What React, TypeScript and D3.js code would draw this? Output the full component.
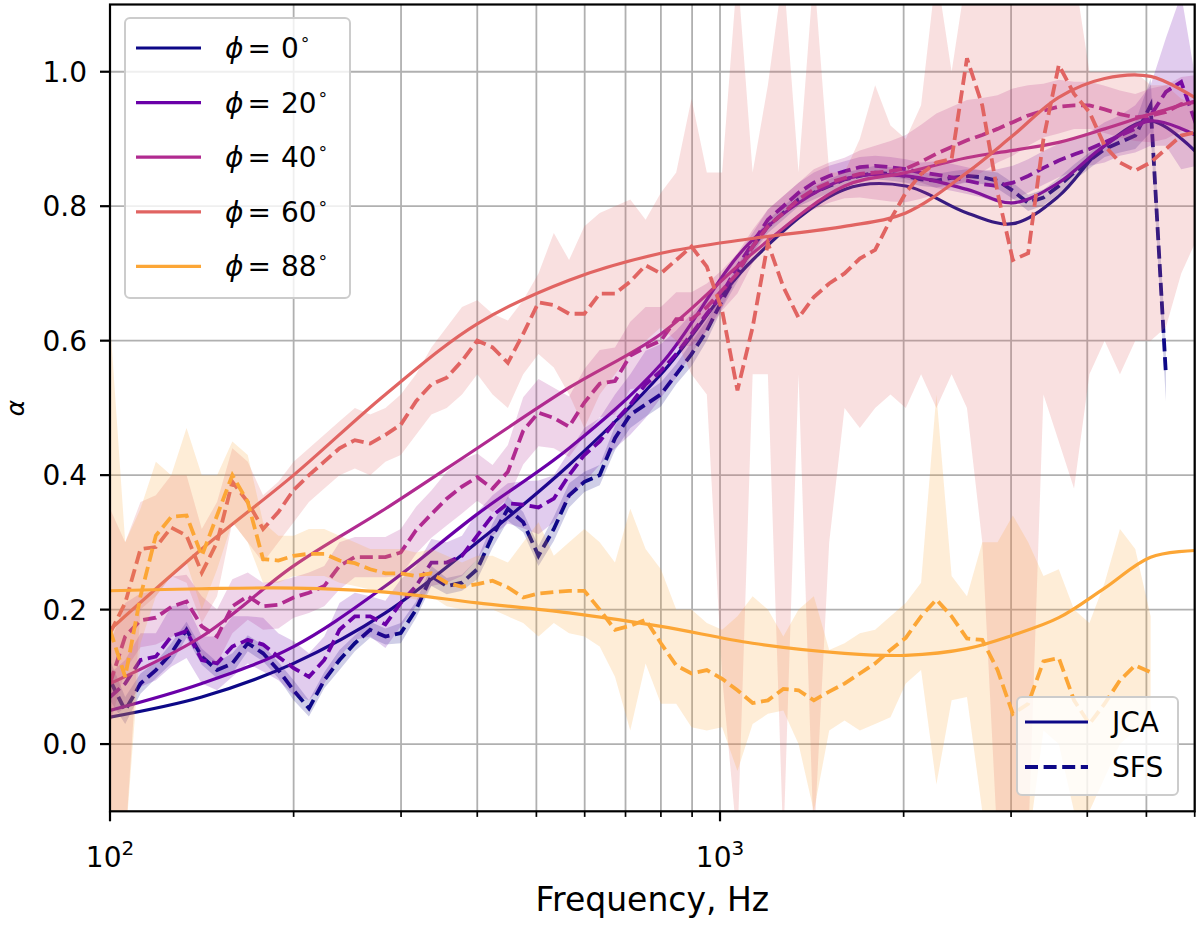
import React, { useEffect, useRef } from 'react'
import * as d3 from 'd3'

// 1/12-octave analysis frequencies (Hz) for the SFS measurements
const FREQS = [
  100, 105.9, 112.2, 118.9, 126, 133.5, 141.4, 149.8, 158.7, 168.2,
  178.2, 188.8, 200, 211.9, 224.5, 237.8, 252, 267, 282.8, 299.7,
  317.5, 336.4, 356.4, 377.6, 400, 423.8, 449, 475.7, 504, 534,
  565.7, 599.3, 635, 672.7, 712.7, 755.1, 800, 847.6, 898, 951.4,
  1008, 1068, 1131, 1198, 1270, 1345, 1425, 1510, 1600, 1695,
  1796, 1903, 2016, 2136, 2263, 2397, 2540, 2691, 2851, 3020,
  3200, 3390, 3592, 3805, 4032, 4271, 4525, 4794, 5080, 5382,
  5702, 6041,
]

// coarser grid for the smooth JCA model curves
const JCA_FREQS = [100, 141.4, 200, 282.8, 400, 565.7, 800, 1131, 1600, 2016, 2540, 3020, 3592, 4271, 5080, 6041]

const ANGLES = [0, 20, 40, 60, 88]
const Y_TICKS = [0, 0.2, 0.4, 0.6, 0.8, 1.0]

const JCA_0 = [0.04, 0.07, 0.12, 0.195, 0.3, 0.415, 0.55, 0.72, 0.825, 0.83, 0.79, 0.774, 0.815, 0.89, 0.927, 0.88]
const JCA_20 = [0.05, 0.09, 0.145, 0.235, 0.342, 0.44, 0.565, 0.75, 0.84, 0.845, 0.825, 0.805, 0.835, 0.89, 0.927, 0.905]
const JCA_40 = [0.09, 0.16, 0.265, 0.35, 0.44, 0.53, 0.61, 0.73, 0.83, 0.85, 0.872, 0.883, 0.895, 0.915, 0.937, 0.957]
const JCA_60 = [0.17, 0.29, 0.4, 0.52, 0.625, 0.69, 0.73, 0.752, 0.77, 0.79, 0.85, 0.905, 0.962, 0.99, 0.993, 0.96]
const JCA_88 = [0.228, 0.231, 0.232, 0.226, 0.21, 0.195, 0.175, 0.15, 0.135, 0.132, 0.142, 0.162, 0.188, 0.232, 0.278, 0.288]

const SFS_0 = [
  0.095, 0.05, 0.09, 0.11, 0.135, 0.17, 0.13, 0.11, 0.12, 0.15,
  0.135, 0.11, 0.08, 0.053, 0.095, 0.125, 0.15, 0.17, 0.16, 0.165,
  0.2, 0.25, 0.235, 0.24, 0.26, 0.31, 0.35, 0.33, 0.28, 0.32,
  0.37, 0.39, 0.4, 0.455, 0.49, 0.505, 0.52, 0.55, 0.58, 0.615,
  0.66, 0.7, 0.74, 0.77, 0.79, 0.81, 0.82, 0.83, 0.84, 0.845,
  0.85, 0.848, 0.845, 0.84, 0.838, 0.842, 0.845, 0.843, 0.838, 0.823,
  0.805, 0.813, 0.83, 0.85, 0.868, 0.885, 0.895, 0.905, 0.95, 0.55,
  null, null,
]
const SFS_20 = [
  0.07, 0.09, 0.125, 0.13, 0.16, 0.168, 0.125, 0.12, 0.145, 0.155,
  0.148, 0.13, 0.113, 0.1, 0.125, 0.17, 0.19, 0.19, 0.178, 0.21,
  0.235, 0.27, 0.27, 0.28, 0.31, 0.34, 0.358, 0.356, 0.352, 0.365,
  0.4, 0.43, 0.45, 0.48, 0.505, 0.535, 0.555, 0.58, 0.61, 0.64,
  0.67, 0.71, 0.745, 0.78, 0.8, 0.82, 0.835, 0.845, 0.852, 0.858,
  0.86, 0.858, 0.855, 0.85, 0.847, 0.843, 0.838, 0.833, 0.83, 0.835,
  0.845, 0.857, 0.868, 0.877, 0.885, 0.895, 0.905, 0.915, 0.935, 0.97,
  0.985, 0.92,
]
const SFS_40 = [
  0.09, 0.16, 0.184, 0.188, 0.204, 0.212, 0.175, 0.16, 0.205, 0.22,
  0.205, 0.207, 0.218, 0.225, 0.235, 0.265, 0.278, 0.278, 0.278, 0.285,
  0.318, 0.342, 0.365, 0.383, 0.397, 0.38, 0.405, 0.466, 0.493, 0.485,
  0.472, 0.508, 0.536, 0.54, 0.578, 0.59, 0.6, 0.632, 0.632, 0.65,
  0.675, 0.7, 0.74, 0.77, 0.79, 0.81, 0.825, 0.835, 0.842, 0.848,
  0.85, 0.852, 0.856, 0.866, 0.878, 0.888, 0.898, 0.906, 0.915, 0.925,
  0.935, 0.942, 0.948, 0.95, 0.95, 0.944, 0.937, 0.932, 0.935, 0.94,
  0.952, 0.955,
]
const SFS_60 = [
  0.165, 0.21, 0.29, 0.293, 0.322, 0.31, 0.255, 0.3, 0.39, 0.36,
  0.32, 0.345, 0.378, 0.4, 0.42, 0.44, 0.452, 0.447, 0.46, 0.475,
  0.51, 0.535, 0.545, 0.57, 0.6, 0.59, 0.567, 0.61, 0.657, 0.653,
  0.64, 0.64, 0.67, 0.67, 0.688, 0.712, 0.7, 0.72, 0.74, 0.71,
  0.645, 0.526, 0.62, 0.745, 0.68, 0.634, 0.665, 0.685, 0.7, 0.722,
  0.735, 0.78, 0.82, 0.848, 0.865, 0.87, 1.02, 0.95, 0.82, 0.72,
  0.73, 0.9, 1.01, 0.967, 0.94, 0.89, 0.865, 0.853, 0.865, 0.885,
  0.905, 0.91,
]
const SFS_88 = [
  0.17, 0.1, 0.22, 0.31, 0.338, 0.34, 0.28, 0.34, 0.4, 0.36,
  0.275, 0.273, 0.28, 0.283, 0.283, 0.273, 0.269, 0.26, 0.254, 0.254,
  0.25, 0.254, 0.24, 0.234, 0.238, 0.243, 0.233, 0.218, 0.224, 0.226,
  0.228, 0.228, 0.2, 0.17, 0.176, 0.185, 0.15, 0.117, 0.105, 0.11,
  0.097, 0.08, 0.061, 0.065, 0.082, 0.08, 0.065, 0.078, 0.09, 0.105,
  0.12, 0.14, 0.158, 0.19, 0.215, 0.19, 0.157, 0.155, 0.11, 0.045,
  0.06, 0.123, 0.128, 0.065, 0.03, 0.06, 0.095, 0.117, 0.107, null,
  null, null,
]

// +/- spread of the SFS estimate (narrow bands)
const SPREAD_0 = [
  0.03, 0.02, 0.015, 0.012, 0.015, 0.012, 0.012, 0.012, 0.015, 0.012,
  0.012, 0.012, 0.015, 0.012, 0.012, 0.015, 0.012, 0.012, 0.012, 0.015,
  0.012, 0.015, 0.012, 0.012, 0.015, 0.018, 0.018, 0.015, 0.015, 0.018,
  0.018, 0.015, 0.015, 0.018, 0.02, 0.018, 0.018, 0.015, 0.018, 0.015,
  0.012, 0.012, 0.01, 0.01, 0.01, 0.01, 0.01, 0.01, 0.01, 0.01,
  0.01, 0.01, 0.01, 0.01, 0.01, 0.01, 0.01, 0.01, 0.012, 0.012,
  0.012, 0.012, 0.012, 0.012, 0.012, 0.012, 0.015, 0.02, 0.04, 0.04,
  0, 0,
]
const SPREAD_20 = [
  0.035, 0.035, 0.04, 0.035, 0.045, 0.04, 0.035, 0.04, 0.045, 0.035,
  0.04, 0.035, 0.04, 0.035, 0.035, 0.04, 0.035, 0.03, 0.035, 0.035,
  0.03, 0.035, 0.03, 0.03, 0.035, 0.03, 0.03, 0.035, 0.04, 0.035,
  0.035, 0.04, 0.035, 0.04, 0.045, 0.05, 0.04, 0.035, 0.03, 0.025,
  0.02, 0.015, 0.015, 0.015, 0.015, 0.015, 0.015, 0.015, 0.015, 0.015,
  0.015, 0.015, 0.015, 0.015, 0.02, 0.02, 0.02, 0.02, 0.025, 0.025,
  0.025, 0.025, 0.025, 0.025, 0.025, 0.03, 0.03, 0.035, 0.045, 0.08,
  0.13, 0.06,
]
const SPREAD_40 = [
  0.06, 0.05, 0.04, 0.04, 0.045, 0.04, 0.045, 0.04, 0.04, 0.035,
  0.035, 0.035, 0.03, 0.03, 0.03, 0.035, 0.03, 0.03, 0.03, 0.035,
  0.035, 0.035, 0.04, 0.04, 0.035, 0.035, 0.04, 0.05, 0.05, 0.045,
  0.045, 0.05, 0.05, 0.05, 0.05, 0.06, 0.05, 0.04, 0.04, 0.035,
  0.03, 0.03, 0.025, 0.025, 0.025, 0.025, 0.03, 0.03, 0.03, 0.035,
  0.04, 0.045, 0.05, 0.055, 0.06, 0.06, 0.06, 0.055, 0.05, 0.05,
  0.045, 0.04, 0.04, 0.035, 0.035, 0.035, 0.035, 0.035, 0.04, 0.04,
  0.04, 0.04,
]

// wide, noisy bands: explicit lower / upper envelopes
const BAND_60_LO = [
  -0.15, -0.15, 0.2, 0.22, 0.25, 0.24, 0.18, 0.22, 0.33, 0.3,
  0.27, 0.3, 0.33, 0.36, 0.38, 0.4, 0.41, 0.4, 0.42, 0.43,
  0.46, 0.49, 0.5, 0.52, 0.55, 0.52, 0.5, 0.55, 0.58, 0.56,
  0.52, 0.47, 0.52, 0.55, 0.58, 0.6, 0.62, 0.6, 0.55, 0.52,
  0.1, -0.15, 0.55, 0.55, -0.15, 0.55, -0.15, 0.3, 0.5, 0.47,
  0.5, 0.52, 0.5, 0.55, 0.5, 0.55, 0.5, 0.3, -0.15, -0.15,
  -0.15, 0.52, 0.45, 0.38, 0.55, 0.6, 0.55, 0.6, 0.6, 0.62,
  0.7, 0.75,
]
const BAND_60_HI = [
  0.35, 0.3, 0.36, 0.37, 0.4, 0.4, 0.32, 0.36, 0.44, 0.42,
  0.37, 0.39, 0.42, 0.44, 0.46, 0.48, 0.5, 0.49, 0.5, 0.52,
  0.55, 0.59, 0.62, 0.65, 0.66, 0.64, 0.63, 0.66, 0.7, 0.76,
  0.72, 0.77, 0.79, 0.8, 0.81, 0.78, 0.82, 0.85, 0.96, 0.85,
  0.85, 1.15, 0.85, 0.98, 1.15, 0.85, 1.15, 0.85, 0.85, 0.9,
  0.98, 0.92, 0.9, 0.95, 1.15, 1.0, 1.15, 1.15, 1.15, 1.15,
  1.15, 1.15, 1.15, 1.15, 1.0, 1.0, 1.0, 1.0, 0.98, 0.98,
  0.96, 0.95,
]
const BAND_88_LO = [
  -0.15, -0.15, 0.15, 0.22, 0.25, 0.27, 0.2, 0.26, 0.33, 0.3,
  0.24, 0.24, 0.25, 0.25, 0.25, 0.24, 0.235, 0.23, 0.225, 0.22,
  0.215, 0.22, 0.205, 0.2, 0.2, 0.2, 0.19, 0.18, 0.16, 0.18,
  0.165, 0.16, 0.145, 0.1, 0.02, 0.12, 0.06, 0.06, 0.025, 0.02,
  0.025, -0.04, 0.03, 0.045, 0.05, 0.0, -0.1, 0.02, 0.035, 0.02,
  0.03, 0.04, 0.09, 0.11, -0.06, 0.065, 0.07, -0.1, -0.15, -0.15,
  -0.15, 0.02, 0.0, -0.1, -0.1, -0.05, 0.0, 0.02, 0.02, null,
  null, null,
]
const BAND_88_HI = [
  0.63, 0.3, 0.35, 0.42, 0.4, 0.47, 0.4, 0.4, 0.45, 0.43,
  0.33, 0.31, 0.31, 0.32, 0.32, 0.31, 0.3, 0.29, 0.29, 0.29,
  0.285, 0.29, 0.28, 0.27, 0.28, 0.28, 0.27, 0.3, 0.33, 0.28,
  0.3, 0.32, 0.3, 0.27, 0.35, 0.29, 0.26, 0.2, 0.2, 0.18,
  0.17, 0.19, 0.22, 0.2, 0.16, 0.2, 0.22, 0.14, 0.15, 0.165,
  0.17, 0.19, 0.21, 0.24, 0.52, 0.25, 0.22, 0.3, 0.3, 0.34,
  0.3, 0.25, 0.26, 0.2, 0.18, 0.24, 0.32, 0.29, 0.19, null,
  null, null,
]

const W = 1200
const H = 926
const PLOT = { left: 110, right: 1194.7, top: 4.5, bottom: 811.3 }
const FONT = 'DejaVu Sans, sans-serif'

type Val = number | null

const withSpread = (v: Val[], s: number[], sign: number): Val[] =>
  v.map((d, i) => (d == null ? null : d + sign * s[i]))

export default function App() {
  const svgRef = useRef<SVGSVGElement>(null)

  useEffect(() => {
    document.body.style.margin = '0'
    const svg = d3.select(svgRef.current!)
    svg.selectAll('*').remove()
    svg.attr('font-family', FONT)

    const x = d3.scaleLog().domain([100, 6000]).range([PLOT.left, PLOT.right])
    const y = d3.scaleLinear().domain([-0.1, 1.1]).range([PLOT.bottom, PLOT.top])
    const colors = ANGLES.map((_, i) => d3.interpolatePlasma(i * 0.2))

    const series = [
      { jca: JCA_0, sfs: SFS_0 as Val[], lo: withSpread(SFS_0, SPREAD_0, -1), hi: withSpread(SFS_0, SPREAD_0, 1) },
      { jca: JCA_20, sfs: SFS_20 as Val[], lo: withSpread(SFS_20, SPREAD_20, -1), hi: withSpread(SFS_20, SPREAD_20, 1) },
      { jca: JCA_40, sfs: SFS_40 as Val[], lo: withSpread(SFS_40, SPREAD_40, -1), hi: withSpread(SFS_40, SPREAD_40, 1) },
      { jca: JCA_60, sfs: SFS_60 as Val[], lo: BAND_60_LO as Val[], hi: BAND_60_HI as Val[] },
      { jca: JCA_88, sfs: SFS_88 as Val[], lo: BAND_88_LO as Val[], hi: BAND_88_HI as Val[] },
    ]

    svg.append('rect').attr('width', W).attr('height', H).attr('fill', '#fff')

    svg.append('defs').append('clipPath').attr('id', 'plot-clip')
      .append('rect')
      .attr('x', PLOT.left).attr('y', PLOT.top)
      .attr('width', PLOT.right - PLOT.left).attr('height', PLOT.bottom - PLOT.top)

    // grid (major + minor on the log axis)
    const grid = svg.append('g').attr('stroke', '#b0b0b0').attr('stroke-width', 1.8)
    x.ticks().forEach(t => {
      grid.append('line').attr('x1', x(t)).attr('x2', x(t)).attr('y1', PLOT.top).attr('y2', PLOT.bottom)
    })
    Y_TICKS.forEach(t => {
      grid.append('line').attr('x1', PLOT.left).attr('x2', PLOT.right).attr('y1', y(t)).attr('y2', y(t))
    })

    const plot = svg.append('g').attr('clip-path', 'url(#plot-clip)')
    const idx = d3.range(FREQS.length)
    const jIdx = d3.range(JCA_FREQS.length)

    series.forEach((s, si) => {
      const c = colors[si]
      const area = d3.area<number>()
        .defined(i => s.lo[i] != null && s.hi[i] != null)
        .x(i => x(FREQS[i]))
        .y0(i => y(s.lo[i] as number))
        .y1(i => y(s.hi[i] as number))
      plot.append('path').attr('d', area(idx)).attr('fill', c).attr('fill-opacity', 0.2)

      const jca = d3.line<number>()
        .curve(d3.curveCatmullRom.alpha(0.5))
        .x(i => x(JCA_FREQS[i]))
        .y(i => y(s.jca[i]))
      plot.append('path').attr('d', jca(jIdx))
        .attr('fill', 'none').attr('stroke', c).attr('stroke-width', 3.2)

      const sfs = d3.line<number>()
        .defined(i => s.sfs[i] != null)
        .x(i => x(FREQS[i]))
        .y(i => y(s.sfs[i] as number))
      plot.append('path').attr('d', sfs(idx))
        .attr('fill', 'none').attr('stroke', c).attr('stroke-width', 3.8)
        .attr('stroke-dasharray', '13,5.6')
    })

    // spines
    svg.append('rect')
      .attr('x', PLOT.left).attr('y', PLOT.top)
      .attr('width', PLOT.right - PLOT.left).attr('height', PLOT.bottom - PLOT.top)
      .attr('fill', 'none').attr('stroke', '#000').attr('stroke-width', 2.2)

    // x ticks
    const axis = svg.append('g').attr('stroke', '#000').attr('stroke-width', 2.2)
    x.ticks().forEach(t => {
      const major = Math.abs(Math.log10(t) - Math.round(Math.log10(t))) < 1e-9
      axis.append('line').attr('x1', x(t)).attr('x2', x(t))
        .attr('y1', PLOT.bottom).attr('y2', PLOT.bottom + (major ? 10 : 5.6))
        .attr('stroke-width', major ? 2.2 : 1.7)
      if (major) {
        const lbl = svg.append('text').attr('x', x(t)).attr('y', 867)
          .attr('text-anchor', 'middle').attr('font-size', 28).attr('fill', '#000')
        lbl.append('tspan').text('10')
        lbl.append('tspan').attr('dy', -12).attr('font-size', 20).text(String(Math.round(Math.log10(t))))
      }
    })
    // y ticks
    Y_TICKS.forEach(t => {
      axis.append('line').attr('x1', PLOT.left - 10).attr('x2', PLOT.left).attr('y1', y(t)).attr('y2', y(t))
      svg.append('text').attr('x', 87).attr('y', y(t) + 10)
        .attr('text-anchor', 'end').attr('font-size', 28).attr('fill', '#000')
        .text(d3.format('.1f')(t))
    })

    svg.append('text').attr('x', (PLOT.left + PLOT.right) / 2).attr('y', 911)
      .attr('text-anchor', 'middle').attr('font-size', 33).attr('fill', '#000')
      .text('Frequency, Hz')
    svg.append('text')
      .attr('transform', `translate(24,${(PLOT.top + PLOT.bottom) / 2}) rotate(-90)`)
      .attr('text-anchor', 'middle').attr('font-size', 25).attr('font-style', 'italic').attr('fill', '#000')
      .text('α')

    // angle legend
    const leg = svg.append('g')
    leg.append('rect').attr('x', 125).attr('y', 18).attr('width', 225).attr('height', 280).attr('rx', 5)
      .attr('fill', '#fff').attr('fill-opacity', 0.8).attr('stroke', '#cccccc').attr('stroke-width', 2)
    ANGLES.forEach((a, i) => {
      const cy = 48 + i * 54.6
      leg.append('line').attr('x1', 136).attr('x2', 201).attr('y1', cy).attr('y2', cy)
        .attr('stroke', colors[i]).attr('stroke-width', 3.2)
      const t = leg.append('text').attr('x', 225).attr('y', cy + 10).attr('font-size', 28).attr('fill', '#000')
      t.append('tspan').attr('font-style', 'italic').text('ϕ')
      t.append('tspan').attr('dx', 4).text('=')
      t.append('tspan').attr('dx', 10).text(String(a))
      t.append('tspan').attr('dx', 1).attr('dy', -13).attr('font-size', 17).text('∘')
    })

    // model legend
    const leg2 = svg.append('g')
    leg2.append('rect').attr('x', 1017).attr('y', 697).attr('width', 161).attr('height', 98).attr('rx', 5)
      .attr('fill', '#fff').attr('fill-opacity', 0.8).attr('stroke', '#cccccc').attr('stroke-width', 2)
    ;[['JCA', null], ['SFS', '13,5.6']].forEach(([label, dash], i) => {
      const cy = 722 + i * 45
      const ln = leg2.append('line').attr('x1', 1025).attr('x2', 1088).attr('y1', cy).attr('y2', cy)
        .attr('stroke', colors[0]).attr('stroke-width', i === 0 ? 3.2 : 3.8)
      if (dash) ln.attr('stroke-dasharray', dash)
      leg2.append('text').attr('x', 1112).attr('y', cy + 10).attr('font-size', 28).attr('fill', '#000').text(label as string)
    })
  }, [])

  return <svg ref={svgRef} width={W} height={H} style={{ display: 'block' }} />
}
